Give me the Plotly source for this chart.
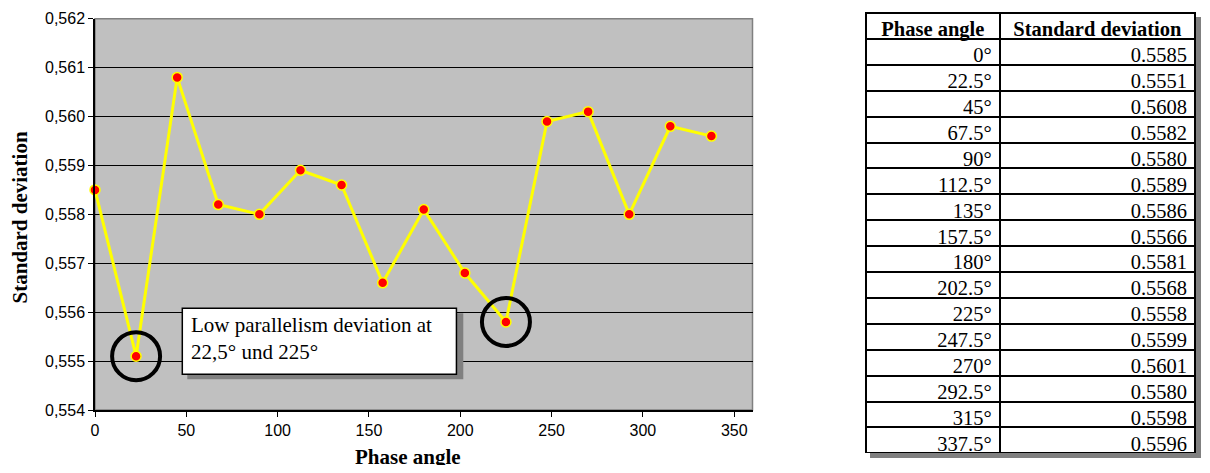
import plotly.graph_objects as go

phase_angles = [0, 22.5, 45, 67.5, 90, 112.5, 135, 157.5, 180, 202.5, 225, 247.5, 270, 292.5, 315, 337.5]
std_dev = [0.5585, 0.5551, 0.5608, 0.5582, 0.5580, 0.5589, 0.5586, 0.5566, 0.5581, 0.5568,
           0.5558, 0.5599, 0.5601, 0.5580, 0.5598, 0.5596]
phase_labels = ["0°", "22.5°", "45°", "67.5°", "90°", "112.5°", "135°", "157.5°", "180°", "202.5°",
                "225°", "247.5°", "270°", "292.5°", "315°", "337.5°"]
std_labels = ["%.4f" % v for v in std_dev]
x_ticks = [0, 50, 100, 150, 200, 250, 300, 350]
y_ticks = [0.554, 0.555, 0.556, 0.557, 0.558, 0.559, 0.560, 0.561, 0.562]
highlight_x = [22.5, 225]
highlight_y = [0.5551, 0.5558]
note_text = "Low parallelism deviation at<br>22,5° und 225°"

OFF = 8  # page body margin
W, H = 1210 - 2 * OFF, 473 - 2 * OFF  # fit inside the window without scrolling
px_l, px_r, px_t, px_b = 95 - OFF, 752.5 - OFF, 18.7 - OFF, 410 - OFF
tb_l, tb_r, tb_t, tb_b = 866 - OFF, 1196 - OFF, 13 - OFF, 453 - OFF
SH = 5  # shadow offset

fig = go.Figure()
fig.add_trace(go.Scatter(
    x=phase_angles, y=std_dev, mode="lines+markers", cliponaxis=False,
    line=dict(color="#FFFF00", width=3),
    marker=dict(color="#FF0000", size=10, line=dict(color="#FFFF00", width=1.5)),
    showlegend=False, hoverinfo="skip"))

# shadow table (gray, offset)
fig.add_trace(go.Table(
    domain=dict(x=[(tb_l + SH) / W, (tb_r + SH) / W], y=[1 - (tb_b + SH) / H, 1 - (tb_t + SH) / H]),
    columnwidth=[134, 196],
    header=dict(values=["", ""], height=25.9, line=dict(color="#808080", width=2),
                fill=dict(color="#808080")),
    cells=dict(values=[[""] * len(phase_labels), [""] * len(std_labels)], height=25.9,
               line=dict(color="#808080", width=2), fill=dict(color="#808080")),
    hoverinfo="skip"))

fig.add_trace(go.Table(
    domain=dict(x=[tb_l / W, tb_r / W], y=[1 - tb_b / H, 1 - tb_t / H]),
    columnwidth=[134, 196],
    header=dict(values=["Phase angle", "Standard deviation"],
                align=["center", "center"], height=25.9,
                line=dict(color="black", width=2), fill=dict(color="white"),
                font=dict(family="Liberation Serif", size=20.5, color="black", weight="bold")),
    cells=dict(values=[phase_labels, std_labels], align=["right", "right"], height=25.9,
               line=dict(color="black", width=2), fill=dict(color="white"),
               font=dict(family="Liberation Serif", size=20.5, color="black"))))

shapes = []
# plot border
shapes.append(dict(type="rect", xref="x domain", yref="y domain", x0=0, x1=1, y0=0, y1=1,
                   line=dict(color="#808080", width=1.5), layer="below"))
# highlight circles
for hx, hy in zip(highlight_x, highlight_y):
    shapes.append(dict(type="circle", xref="x", yref="y", xsizemode="pixel", ysizemode="pixel",
                       xanchor=hx, yanchor=hy, x0=-24, x1=24, y0=-24, y1=24,
                       line=dict(color="black", width=4)))
# note box with shadow
nx0, nx1, ny0, ny1 = 47.8, 197.9, 0.55473, 0.55608
shapes.append(dict(type="rect", xref="x", yref="y", xsizemode="pixel", ysizemode="pixel",
                   xanchor=nx0, yanchor=ny1, x0=5, x1=281, y0=-5, y1=-71,
                   line=dict(width=0), fillcolor="#808080"))
shapes.append(dict(type="rect", xref="x", yref="y", x0=nx0, x1=nx1, y0=ny0, y1=ny1,
                   line=dict(color="black", width=1.5), fillcolor="white"))
# right shadow strip of the table
shapes.append(dict(type="rect", xref="paper", yref="paper", layer="above",
                   x0=(tb_r + 1) / W, x1=(tb_r + SH) / W, y0=1 - (tb_b + SH) / H, y1=1 - (tb_t + SH) / H,
                   fillcolor="#808080", line=dict(width=0)))

annotations = [
    dict(x=nx0, y=ny1, xref="x", yref="y", xanchor="left", yanchor="top", xshift=7, yshift=-3,
         text=note_text, align="left", showarrow=False,
         font=dict(family="Liberation Serif", size=21, color="black")),
    dict(x=(408 - OFF) / W, y=1 - (457 - OFF) / H, xref="paper", yref="paper", text="<b>Phase angle</b>",
         showarrow=False, xanchor="center", yanchor="middle",
         font=dict(family="Liberation Serif", size=21, color="black")),
    dict(x=(19.5 - OFF) / W, y=1 - (218 - OFF) / H, xref="paper", yref="paper", text="<b>Standard deviation</b>",
         showarrow=False, textangle=-90, xanchor="center", yanchor="middle",
         font=dict(family="Liberation Serif", size=21, color="black")),
]

fig.update_layout(
    width=W, height=H, margin=dict(l=0, r=0, t=0, b=0),
    paper_bgcolor="white", plot_bgcolor="#C0C0C0",
    separators=",.",
    shapes=shapes,
    annotations=annotations,
    xaxis=dict(domain=[px_l / W, px_r / W], range=[0, 360], tickvals=x_ticks, showgrid=False,
               zeroline=False, showline=True, linecolor="black", linewidth=1.5,
               ticks="outside", ticklen=5, tickcolor="black", automargin=False,
               tickfont=dict(family="Liberation Sans", size=16, color="black")),
    yaxis=dict(domain=[1 - px_b / H, 1 - px_t / H], range=[0.554, 0.562], tickvals=y_ticks,
               tickformat=".3f", showgrid=True, gridcolor="black", gridwidth=1,
               zeroline=False, showline=True, linecolor="black", linewidth=1.5,
               ticks="outside", ticklen=5, tickcolor="black", automargin=False,
               tickfont=dict(family="Liberation Sans", size=16, color="black")),
)

fig.write_html("out.html")
